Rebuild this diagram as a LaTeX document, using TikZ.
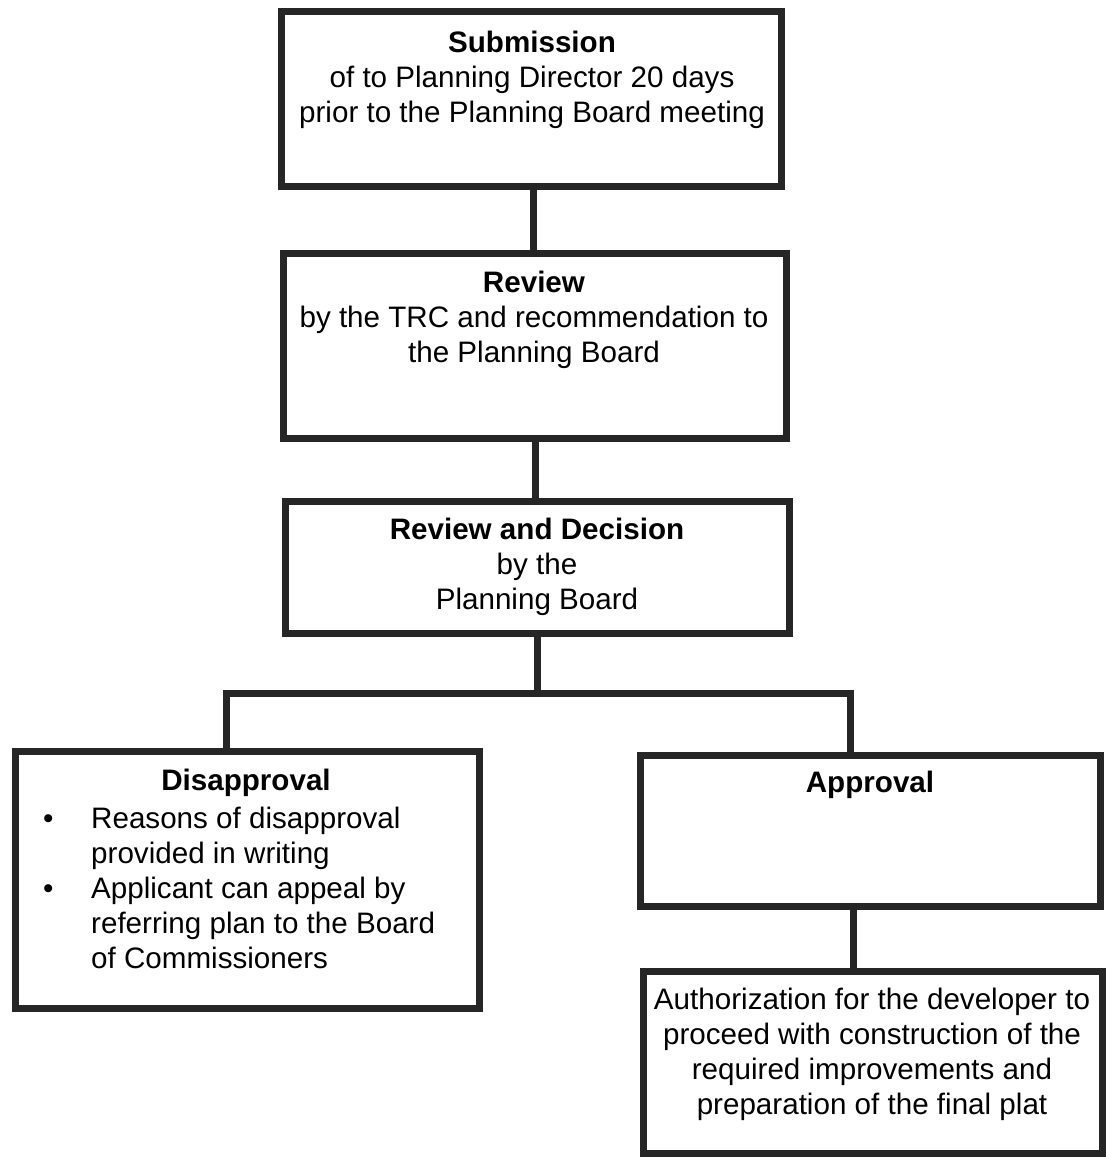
\documentclass[tikz,border=0pt]{standalone}
\usepackage{fontspec}
\setmainfont{Liberation Sans}
\tikzset{
  box/.style={draw=black!85, line width=7pt, rectangle, inner sep=0pt, fill=white},
  txt/.style={inner sep=0pt, align=center, anchor=north, font=\fontsize{29.6}{35}\selectfont},
  conn/.style={draw=black!85, line width=7pt}
}
\begin{document}
\begin{tikzpicture}[x=1pt,y=-1pt]
\useasboundingbox (0,0) rectangle (1106,1160);
% boxes
\node[box, minimum width=500pt, minimum height=175pt] (b1) at (531.5,99) {};
\node[box, minimum width=503pt, minimum height=185pt] (b2) at (535,346) {};
\node[box, minimum width=504pt, minimum height=132pt] (b3) at (537.5,567.5) {};
\node[box, minimum width=464pt, minimum height=257pt] (dis) at (247.5,880) {};
\node[box, minimum width=460pt, minimum height=151pt] (app) at (870.5,831) {};
\node[box, minimum width=459pt, minimum height=182pt] (auth) at (873,1062.5) {};
% texts
\node[txt] (t1) at (532,31) {\textbf{Submission}\\of to Planning Director 20 days\\prior to the Planning Board meeting};
\node[txt] (t2) at (534,271) {\textbf{Review}\\by the TRC and recommendation to\\the Planning Board};
\node[txt] (t3) at (537,518) {\textbf{Review and Decision}\\by the\\Planning Board};
\node[txt] (tdis) at (246,769) {\textbf{Disapproval}};
\node[txt, anchor=north west, align=left] (tlist) at (43,803.5) {%
  \renewcommand\arraystretch{1}%
  \begin{tabular}{@{}p{48pt}@{}l@{}}
  \textbullet & Reasons of disapproval\\
   & provided in writing\\
  \textbullet & Applicant can appeal by\\
   & referring plan to the Board\\
   & of Commissioners
  \end{tabular}};
\node[txt] (tapp) at (870,771) {\textbf{Approval}};
\node[txt] (tauth) at (872,988) {Authorization for the developer to\\proceed with construction of the\\required improvements and\\preparation of the final plat};
% connectors
\coordinate (j) at (537.5,693);
\coordinate (jl) at (226,693);
\coordinate (jr) at (850,693);
\draw[conn] (b1.south -| 533,0) -- (b2.north -| 533,0);
\draw[conn] (b2.south -| 535,0) -- (b3.north -| 535,0);
\draw[conn] (b3.south) -- (j);
\draw[conn, line join=miter] (dis.north -| jl) -- (jl) -- (jr) -- (app.north -| jr);
\draw[conn] (app.south -| 853,0) -- (auth.north -| 853,0);
\end{tikzpicture}
\end{document}
